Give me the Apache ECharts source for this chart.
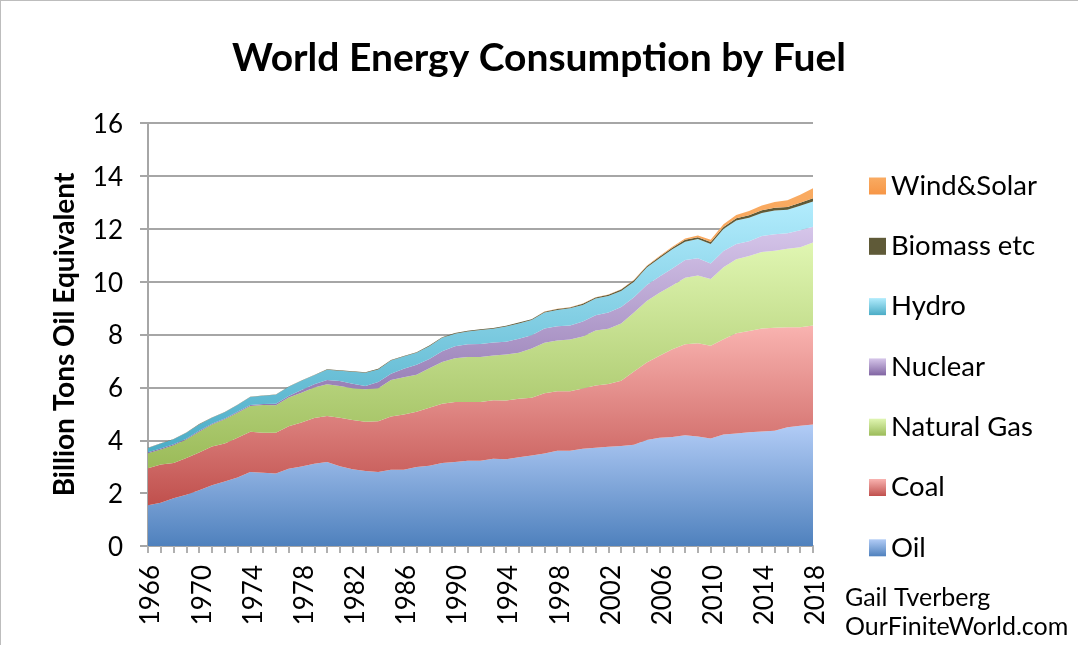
<!DOCTYPE html>
<html>
<head>
<meta charset="utf-8">
<title>World Energy Consumption by Fuel</title>
<script src="https://cdn.jsdelivr.net/npm/echarts@6/dist/echarts.min.js"></script>
<style>
  html, body { margin: 0; padding: 0; background: #fff; }
  #chart { width: 1078px; height: 645px; }
</style>
</head>
<body>
<div id="chart"></div>
<script>
var years = [];
for (var y = 1966; y <= 2018; y++) {
  years.push('' + y);
}

// billion tons oil equivalent (each band's own thickness)
var oil = [1.54, 1.64, 1.81, 1.94, 2.11, 2.30, 2.44, 2.59, 2.80, 2.77, 2.74, 2.92, 3.01, 3.11, 3.18, 3.02, 2.90, 2.84, 2.80, 2.88, 2.88, 2.99, 3.04, 3.14, 3.18, 3.22, 3.22,
  3.30, 3.28, 3.36, 3.42, 3.50, 3.60, 3.60, 3.68, 3.72, 3.75, 3.78, 3.83, 4.01, 4.09, 4.12, 4.19, 4.14, 4.07, 4.22, 4.26, 4.30, 4.33, 4.36, 4.49, 4.55, 4.60];
var coal = [1.40, 1.44, 1.33, 1.39, 1.43, 1.46, 1.44, 1.50, 1.52, 1.51, 1.54, 1.61, 1.66, 1.73, 1.74, 1.83, 1.87, 1.86, 1.92, 2.02, 2.09, 2.09, 2.19, 2.24, 2.27, 2.23, 2.23,
  2.21, 2.22, 2.21, 2.19, 2.28, 2.25, 2.25, 2.28, 2.35, 2.38, 2.47, 2.77, 2.93, 3.11, 3.32, 3.44, 3.53, 3.50, 3.60, 3.79, 3.83, 3.90, 3.90, 3.78, 3.72, 3.74];
var gas = [0.57, 0.57, 0.67, 0.70, 0.78, 0.84, 0.91, 0.95, 0.98, 1.05, 1.04, 1.09, 1.13, 1.16, 1.20, 1.20, 1.20, 1.23, 1.25, 1.38, 1.41, 1.40, 1.49, 1.58, 1.65, 1.70, 1.70,
  1.70, 1.74, 1.74, 1.86, 1.91, 1.92, 1.96, 1.96, 2.08, 2.09, 2.17, 2.23, 2.33, 2.38, 2.41, 2.52, 2.56, 2.53, 2.72, 2.80, 2.84, 2.89, 2.91, 2.97, 3.03, 3.14];
var nuclear = [0.04, 0.04, 0.04, 0.03, 0.04, 0.02, 0.03, 0.04, 0.03, 0.04, 0.06, 0.05, 0.10, 0.12, 0.16, 0.19, 0.17, 0.12, 0.23, 0.24, 0.32, 0.38, 0.35, 0.41, 0.46, 0.48, 0.49,
  0.49, 0.49, 0.53, 0.50, 0.54, 0.54, 0.53, 0.57, 0.58, 0.61, 0.62, 0.58, 0.60, 0.61, 0.65, 0.67, 0.65, 0.59, 0.62, 0.57, 0.56, 0.61, 0.62, 0.59, 0.64, 0.60];
var hydro = [0.16, 0.19, 0.19, 0.22, 0.24, 0.23, 0.24, 0.25, 0.31, 0.31, 0.34, 0.35, 0.35, 0.34, 0.39, 0.39, 0.45, 0.50, 0.48, 0.50, 0.47, 0.45, 0.49, 0.51, 0.47, 0.48, 0.53,
  0.52, 0.57, 0.58, 0.58, 0.60, 0.62, 0.65, 0.63, 0.63, 0.63, 0.61, 0.59, 0.66, 0.69, 0.72, 0.69, 0.73, 0.73, 0.83, 0.89, 0.89, 0.87, 0.90, 0.89, 0.93, 0.95];
var biomass = [0.01, 0.01, 0.01, 0.01, 0.01, 0.01, 0.01, 0.01, 0.01, 0.01, 0.01, 0.01, 0.01, 0.01, 0.02, 0.02, 0.02, 0.02, 0.02, 0.02, 0.02, 0.02, 0.02, 0.02, 0.03, 0.03, 0.03,
  0.03, 0.03, 0.03, 0.03, 0.03, 0.03, 0.03, 0.04, 0.04, 0.04, 0.05, 0.05, 0.05, 0.06, 0.06, 0.07, 0.07, 0.08, 0.08, 0.09, 0.09, 0.10, 0.10, 0.10, 0.11, 0.12];
var windSolar = [0, 0, 0, 0, 0, 0, 0, 0, 0, 0, 0, 0, 0, 0, 0, 0, 0, 0, 0, 0, 0, 0, 0, 0, 0, 0, 0,
  0, 0, 0, 0, 0.01, 0.01, 0.01, 0.01, 0.01, 0.01, 0.01, 0.02, 0.02, 0.03, 0.04, 0.05, 0.06, 0.08, 0.10, 0.12, 0.16, 0.18, 0.22, 0.26, 0.31, 0.38];

var fontName = 'Lato';

function fade(top, bottom) {
  return new echarts.graphic.LinearGradient(0, 0, 0, 1, [
    { offset: 0, color: top },
    { offset: 1, color: bottom }
  ]);
}

function band(name, values, top, bottom) {
  var fill = fade(top, bottom);
  return {
    name: name,
    type: 'line',
    stack: 'fuel',
    data: values,
    symbol: 'none',
    smooth: false,
    animation: false,
    lineStyle: { width: 0, color: fill },
    itemStyle: { color: fill },
    areaStyle: { color: fill, opacity: 1 }
  };
}

// rich token with top padding nudges the tick text off its tick, as in the reference
function nudged(value) {
  return '{t|' + value + '}';
}

var chart = echarts.init(document.getElementById('chart'));

chart.setOption({
  backgroundColor: '#fff',
  animation: false,
  title: [{
    text: 'World Energy Consumption by Fuel',
    left: 534,
    top: 34,
    textAlign: 'center',
    textStyle: { fontFamily: fontName, fontSize: 39, fontWeight: 'bold', color: '#000' }
  }, {
    text: 'Gail Tverberg\nOurFiniteWorld.com',
    left: 840,
    top: 578,
    textStyle: { fontFamily: fontName, fontSize: 25, fontWeight: 'normal', color: '#000', lineHeight: 29 }
  }],
  legend: {
    orient: 'vertical',
    left: 864,
    top: 167,
    itemWidth: 17,
    itemHeight: 17,
    itemGap: 32.3,
    icon: 'rect',
    selectedMode: false,
    textStyle: { fontFamily: fontName, fontSize: 27.5, color: '#000', lineHeight: 28 },
    data: ['Wind&Solar', 'Biomass etc', 'Hydro', 'Nuclear', 'Natural Gas', 'Coal', 'Oil']
  },
  grid: { left: 148, right: 265, top: 123, bottom: 99 },
  xAxis: {
    type: 'category',
    data: years,
    boundaryGap: false,
    axisLine: { lineStyle: { color: '#a6a6a6', width: 2 } },
    axisTick: { show: true, interval: 0, length: 7, lineStyle: { color: '#b0b0b0', width: 2 } },
    axisLabel: {
      interval: 3, rotate: 90, margin: 19, formatter: nudged,
      rich: { t: { padding: [6, 0, 0, 0], fontFamily: fontName, fontSize: 26, color: '#000' } }
    },
    splitLine: { show: false }
  },
  yAxis: {
    type: 'value',
    min: 0,
    max: 16,
    interval: 2,
    name: 'Billion Tons Oil Equivalent',
    nameLocation: 'middle',
    nameGap: 69,
    nameTextStyle: { fontFamily: fontName, fontSize: 28, fontWeight: 'bold', color: '#000' },
    axisLine: { show: true, lineStyle: { color: '#a6a6a6', width: 2 } },
    axisTick: { show: true, length: 8, lineStyle: { color: '#a6a6a6', width: 2 } },
    axisLabel: {
      margin: 25, formatter: nudged,
      rich: { t: { padding: [3, 0, 0, 0], fontFamily: fontName, fontSize: 26, color: '#000' } }
    },
    splitLine: { show: true, lineStyle: { color: '#a6a6a6', width: 2 } }
  },
  series: [
    band('Oil', oil, '#b2ccf6', '#4f81bd'),
    band('Coal', coal, '#f9b3b0', '#c0504d'),
    band('Natural Gas', gas, '#e0f6b2', '#9bbb59'),
    band('Nuclear', nuclear, '#d6c6ea', '#8064a2'),
    band('Hydro', hydro, '#b2ecfd', '#4bacc6'),
    band('Biomass etc', biomass, '#5f5a38', '#5f5a38'),
    band('Wind&Solar', windSolar, '#f9ab62', '#f79646')
  ],
  // thin frame left over on the top and left edges of the screenshot
  graphic: [
    { type: 'rect', left: 0, top: 0, shape: { width: 1078, height: 1 }, style: { fill: '#bdbdbd' } },
    { type: 'rect', left: 0, top: 0, shape: { width: 1, height: 645 }, style: { fill: '#bdbdbd' } }
  ]
});
</script>
</body>
</html>
